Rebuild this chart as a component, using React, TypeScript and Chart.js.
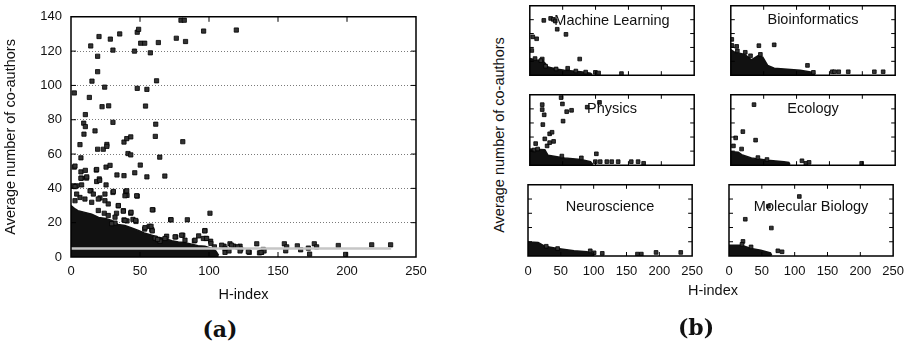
import React, { useEffect, useRef } from 'react';
import { Chart, registerables } from 'chart.js';

Chart.register(...registerables);

const FONT = '"Liberation Sans", Arial, Helvetica, sans-serif';

// ---------- tick labels ----------
const xTickValues = [0, 50, 100, 150, 200, 250];
const xInnerTicks = [50, 100, 150, 200];
const allYTickValues = [0, 20, 40, 60, 80, 100, 120, 140];
const allYInnerTicks = [20, 40, 60, 80, 100, 120];
const subYInnerTicks = [20, 40, 60, 80];

// ---------- panel (a): all fields ----------
const allFieldsOutliers: [number, number][] = [
  [2.4, 95.6], [14.3, 123], [20.3, 128.5], [19.3, 117], [28.5, 127], [35.3, 130], [30.4, 120.6], [48, 131],
  [49, 132.7], [46, 120], [50.5, 124.6], [53.4, 124.6], [57.5, 119], [63.3, 125], [76.3, 127.5], [79.7, 138],
  [82.1, 138], [83, 125.6], [96.1, 131.7], [119.8, 132.3],
  [19.3, 108], [15.2, 102.5], [24.4, 99], [48, 98.3], [55, 97.7], [62, 102.7], [13.3, 93], [22.5, 87.6],
  [27.3, 88.1], [54, 88], [10.4, 83], [9.2, 78], [10.4, 76], [30.4, 78.5], [17.4, 73.5], [9.4, 71.6],
  [61.4, 77.4], [6.5, 65.5], [19.3, 62.8], [23.4, 62.8], [26, 65.6], [26, 64.5], [38.4, 67], [40.4, 69],
  [43.3, 70], [61.1, 70.3], [81, 67.2], [41.3, 60.3], [43.3, 59.5], [64.3, 58.2], [7.2, 57.8], [2.4, 52.4],
  [7.2, 49.6], [10.4, 50.5], [18.3, 50.7], [25.4, 52.4], [28.3, 53.4], [33.3, 47.8], [38.4, 47.4], [46.2, 49.1],
  [50.2, 53.6], [55, 46.7], [68, 47.2], [7.5, 46], [11.3, 46], [20.5, 45.5], [2.9, 53], [18.6, 51],
  [7.7, 42], [1.7, 41.5], [4.1, 41.5], [7.2, 45.9], [11.4, 46.7],
  [2.9, 41], [18.6, 44], [20.8, 44.7], [25.4, 42], [39.6, 38.2], [40.6, 35.9], [48, 35.5], [30.4, 37.6],
  [14.5, 38.6], [21, 34.4], [34.3, 29.8], [38, 27], [43.3, 25.5], [33, 25.5], [59.4, 27.5], [31.9, 19.8],
  [38.4, 21.6], [40.6, 21], [44.9, 21.9], [47.1, 20.7], [53.4, 16.3], [56.7, 17.9], [58.5, 16], [72.2, 21.7],
  [84.3, 21.7], [100.7, 25.5], [69.3, 12.1], [75.9, 11.7], [81, 12.7], [89.4, 9.4], [92.5, 12.3], [97.1, 15.4],
  [101.2, 9.2], [61, 11], [64.5, 9.2], [24.6, 36.7], [30.7, 38.2], [40.4, 38.6], [39.1, 35.7], [47.6, 35.7],
  [58.9, 27.5], [72.5, 21.7],
  [110.9, 6.3], [115.2, 7.7], [118.1, 6.3], [122.5, 6.3], [123, 4.6], [129.2, 2.7], [134.6, 7.7], [136.6, 2.4],
  [139.3, 4.4], [112.8, 4], [138.2, 2.7], [139.9, 3.5], [154.6, 7.7], [156.3, 5.9], [155.6, 3.6], [164, 6.5],
  [166.4, 4.2], [172, 5.2], [172.9, 1.7], [176.3, 7.7], [178, 5.9], [193.7, 6.7], [199, 1.5], [217.9, 7.1],
  [231.6, 7.1], [96.9, 15.2], [97.8, 10.8], [111.6, 2.7], [114.5, 3.5], [122.5, 3.5], [137.7, 2.7],
  [2.9, 32.8], [6.5, 34.7], [10.1, 33.8], [13.8, 38.6], [16.2, 36.7], [4.1, 36.7], [15, 31.9], [19.8, 33.8],
  [24.6, 32.8], [27, 30.9], [19.8, 27.1], [24.1, 25.5], [27, 24.2], [31.9, 23.2], [34.3, 30], [37.9, 26.7],
  [43.5, 26.1], [46.9, 21.3], [39.1, 21.3], [29.5, 19.4], [53.6, 17.1], [58, 17.9], [58.9, 15.2], [62.8, 10.2],
  [68.1, 10.8], [75.4, 11.7], [80.2, 12.7], [82.6, 9.8], [89.9, 9.8], [95.9, 10.8], [98.3, 10.8], [101.4, 7.9],
  [103.9, 5.9], [109.2, 6.9], [111.6, 5], [116.4, 6.9], [120.8, 5.9], [128.5, 3.1],
];
// upper edge of the solid (overplotted) point cloud
const allFieldsDense: [number, number][] = [
  [0, 30], [3, 28], [5, 27], [10, 26], [15, 25], [20, 23], [25, 22.5], [29.5, 21.3], [34, 19], [39, 18.4],
  [44, 17], [48.8, 15.5], [53, 14], [58.5, 12.7], [63, 11.5], [68, 10.8], [73, 9.5], [77.8, 8.8], [82, 8.5],
  [87.5, 7.5], [92, 6.5], [97, 6.3], [102, 5], [105, 3.5], [107, 1],
];
const meanCoauthors = 5;
const meanLineHIndex: [number, number] = [0, 232];

// ---------- panel (b): per field ----------
const fieldNames = ['Machine Learning', 'Bioinformatics', 'Physics', 'Ecology', 'Neuroscience', 'Molecular Biology'];

const mlOutliers: [number, number][] = [
  [21.3, 79], [31.7, 81.8], [35.7, 80.4], [38.7, 78], [41.7, 66.2], [55, 58.9], [4.5, 55.3], [10.4, 52.5],
  [3, 35.6], [18.9, 23.3], [16.8, 21], [75.9, 23.3], [57.6, 10], [99.7, 4.1], [104.6, 3.2], [139.4, 2.3],
  [8, 24], [24, 13], [40, 9], [70, 6], [85, 4.5],
];
const mlDense: [number, number][] = [
  [0, 24], [10, 22], [20, 21], [27.8, 12], [40, 9], [52.6, 7], [65, 6], [77.4, 5], [92.3, 2.7], [95, 1],
];

const bioOutliers: [number, number][] = [
  [1.5, 51.6], [1.5, 42.9], [8.9, 41.5], [42.7, 42.5], [66, 43.8], [116.6, 14.1], [125.6, 4.1], [154.3, 5],
  [157.7, 5], [164.1, 5], [178.6, 5], [218.3, 5], [231.7, 5], [10, 35], [22, 33], [45, 30], [30, 28],
];
const bioDense: [number, number][] = [
  [0, 37], [5.9, 33], [21.3, 30], [31.3, 22], [41.2, 28], [48.6, 26], [56, 14], [66, 10], [85.8, 8.7],
  [105.6, 7.3], [125.5, 4], [128, 1],
];

const physicsOutliers: [number, number][] = [
  [18.9, 86], [18.9, 79], [21.9, 71.6], [19.8, 57.7], [49.6, 87], [47.6, 96], [56.1, 76], [63.5, 78],
  [50.6, 62.6], [87.3, 82.4], [106, 89.2], [22.8, 37.4], [30.2, 44.6], [33.8, 46.8], [26.3, 27.4], [30.2, 32],
  [36.2, 33.8], [8.9, 30.7], [6.4, 21.6], [11.9, 23], [101.2, 16.2], [78.4, 10.4], [48.7, 13], [99.7, 5],
  [107.1, 5], [117.1, 5], [124.6, 5], [134.4, 5], [154.3, 5], [164.7, 5], [173.1, 2.7],
];
const physicsDense: [number, number][] = [
  [0, 23], [22.8, 22], [27.8, 14], [52.6, 10.4], [77.4, 8], [92.3, 5], [96, 1],
];

const ecologyOutliers: [number, number][] = [
  [35.3, 86], [18.3, 47.7], [7.4, 38.8], [37.7, 35.6], [4, 27.4], [16.4, 23], [41.2, 10.8], [55, 8.1],
  [108.2, 6.3], [114.1, 2.7], [119, 4], [199, 2.7],
];
const ecologyDense: [number, number][] = [
  [0, 19], [11.4, 18.5], [16.4, 15], [31.3, 10.4], [56.1, 7.2], [80.8, 5], [88.3, 4], [90, 1],
];

const neuroOutliers: [number, number][] = [
  [27.8, 13.7], [45.1, 10.5], [94.8, 7.3], [100.7, 4.5], [113.1, 3.7], [166.7, 2.7], [172.6, 2.7], [195, 5],
  [232.6, 5],
];
const neuroDense: [number, number][] = [
  [0, 20], [1.5, 19.6], [15.4, 19], [25.3, 13.7], [45.1, 10.5], [70, 7.3], [89.8, 5.9], [99.7, 2.7], [101, 1],
];

const molBioOutliers: [number, number][] = [
  [107.1, 83.6], [60, 69.9], [24.8, 51.6], [64.5, 39.3], [21.3, 20.5], [19.8, 16.4], [33.6, 12.8], [74.4, 7.3],
  [80.8, 5.9],
];
const molBioDense: [number, number][] = [
  [0, 15], [18.9, 15], [33.6, 10.5], [48.4, 8.2], [63.2, 4.5], [65, 1],
];

// ---------- helpers ----------
const toXY = (pts: [number, number][]) => pts.map(([x, y]) => ({ x, y }));

type FrameCfg = {
  xTicks: number[];
  yTicks: number[];
  tickLen: number;
  frameWidth: number;
  title?: string;
  titleOffset?: number;
};

function makeFramePlugin(cfg: FrameCfg) {
  return {
    id: 'frameBox',
    afterDatasetsDraw(chart: any) {
      const ctx: CanvasRenderingContext2D = chart.ctx;
      const { left, right, top, bottom } = chart.chartArea;
      const xs = chart.scales.x;
      const ys = chart.scales.y;
      ctx.save();
      ctx.setLineDash([]);
      ctx.globalAlpha = 1;
      ctx.strokeStyle = '#000';
      ctx.lineWidth = 1;
      ctx.beginPath();
      for (const v of cfg.xTicks) {
        const p = xs.getPixelForValue(v);
        ctx.moveTo(p, bottom);
        ctx.lineTo(p, bottom - cfg.tickLen);
        ctx.moveTo(p, top);
        ctx.lineTo(p, top + cfg.tickLen);
      }
      for (const v of cfg.yTicks) {
        const p = ys.getPixelForValue(v);
        ctx.moveTo(left, p);
        ctx.lineTo(left + cfg.tickLen, p);
        ctx.moveTo(right, p);
        ctx.lineTo(right - cfg.tickLen, p);
      }
      ctx.stroke();
      ctx.lineWidth = cfg.frameWidth;
      ctx.beginPath();
      ctx.rect(left, top, right - left, bottom - top);
      ctx.stroke();
      if (cfg.title) {
        ctx.fillStyle = '#111';
        ctx.font = `14.5px ${FONT}`;
        ctx.textAlign = 'center';
        ctx.textBaseline = 'middle';
        ctx.fillText(cfg.title, (left + right) / 2, top + (cfg.titleOffset || 15));
      }
      ctx.restore();
    },
  };
}

function denseDataset(pts: [number, number][]) {
  return {
    data: toXY(pts),
    showLine: true,
    fill: 'origin',
    borderColor: '#111',
    backgroundColor: '#111',
    borderWidth: 1.5,
    pointRadius: 0,
    tension: 0,
  };
}

function outlierDataset(pts: [number, number][], radius: number) {
  return {
    data: toXY(pts),
    showLine: false,
    pointStyle: 'rect',
    pointRadius: radius,
    backgroundColor: '#333',
    borderColor: '#000',
    borderWidth: 0.8,
  };
}

function configA() {
  return {
    type: 'scatter',
    data: {
      datasets: [
        {
          data: toXY([
            [meanLineHIndex[0], meanCoauthors],
            [meanLineHIndex[1], meanCoauthors],
          ]),
          showLine: true,
          borderColor: '#c6c6c6',
          borderWidth: 2.5,
          pointRadius: 0,
        },
        outlierDataset(allFieldsOutliers, 3.0),
        denseDataset(allFieldsDense),
      ],
    },
    options: {
      responsive: false,
      animation: false,
      events: [],
      layout: { padding: { top: 14, right: 24, left: 0, bottom: 0 } },
      plugins: {
        legend: { display: false },
        tooltip: { enabled: false },
      },
      scales: {
        x: {
          type: 'linear',
          min: 0,
          max: 250,
          afterBuildTicks: (s: any) => {
            s.ticks = xTickValues.map((value) => ({ value }));
          },
          afterFit: (s: any) => {
            s.height = 53;
          },
          grid: { display: false, drawTicks: false },
          border: { display: false },
          ticks: { padding: 7, color: '#111', font: { family: FONT, size: 13 } },
          title: {
            display: true,
            text: 'H-index',
            color: '#111',
            font: { family: FONT, size: 14.5 },
            padding: { top: 0, bottom: 6 },
          },
        },
        y: {
          type: 'linear',
          min: 0,
          max: 140,
          afterBuildTicks: (s: any) => {
            s.ticks = allYTickValues.map((value) => ({ value }));
          },
          afterFit: (s: any) => {
            s.width = 71;
          },
          grid: {
            drawTicks: false,
            lineWidth: 1,
            color: (c: any) =>
              c.tick && (c.tick.value === 0 || c.tick.value === 140) ? 'rgba(0,0,0,0)' : '#7a7a7a',
          },
          border: { display: false, dash: [1, 2] },
          ticks: { padding: 9, color: '#111', font: { family: FONT, size: 13 } },
          title: {
            display: true,
            text: 'Average number of co-authors',
            color: '#111',
            font: { family: FONT, size: 14.5 },
            padding: { top: 2, bottom: 0 },
          },
        },
      },
    },
    plugins: [makeFramePlugin({ xTicks: xInnerTicks, yTicks: allYInnerTicks, tickLen: 5, frameWidth: 1.5 })],
  };
}

function configSub(
  name: string,
  outliers: [number, number][],
  dense: [number, number][],
  showX: boolean,
  titleOffset: number,
  padX: number
) {
  return {
    type: 'scatter',
    data: { datasets: [outlierDataset(outliers, 2.6), denseDataset(dense)] },
    options: {
      responsive: false,
      animation: false,
      events: [],
      layout: { padding: { top: 3, left: padX, right: padX, bottom: showX ? 0 : 3 } },
      plugins: {
        legend: { display: false },
        tooltip: { enabled: false },
      },
      scales: {
        x: {
          type: 'linear',
          min: 0,
          max: 250,
          display: showX,
          afterBuildTicks: (s: any) => {
            s.ticks = xTickValues.map((value) => ({ value }));
          },
          afterFit: (s: any) => {
            if (showX) s.height = 30;
          },
          grid: { display: false, drawTicks: false },
          border: { display: false },
          ticks: { padding: 8, color: '#111', font: { family: FONT, size: 13 }, maxRotation: 0, autoSkip: false },
        },
        y: { type: 'linear', min: 0, max: 100, display: false },
      },
    },
    plugins: [
      makeFramePlugin({
        xTicks: xInnerTicks,
        yTicks: subYInnerTicks,
        tickLen: 4,
        frameWidth: 1.5,
        title: name,
        titleOffset,
      }),
    ],
  };
}

function PlotCanvas(props: { left: number; top: number; width: number; height: number; make: () => any }) {
  const ref = useRef<HTMLCanvasElement>(null);
  useEffect(() => {
    const chart = new Chart(ref.current as HTMLCanvasElement, props.make());
    return () => chart.destroy();
  }, []);
  return (
    <canvas
      ref={ref}
      width={props.width}
      height={props.height}
      style={{ position: 'absolute', left: props.left, top: props.top, width: props.width, height: props.height }}
    />
  );
}

const subLayout = [
  { name: fieldNames[0], out: mlOutliers, dense: mlDense, x0: 528, y0: 4, h: 73, bottom: false, tOff: 15 },
  { name: fieldNames[1], out: bioOutliers, dense: bioDense, x0: 729, y0: 4, h: 73, bottom: false, tOff: 14.5 },
  { name: fieldNames[2], out: physicsOutliers, dense: physicsDense, x0: 528, y0: 93, h: 74, bottom: false, tOff: 14.5 },
  { name: fieldNames[3], out: ecologyOutliers, dense: ecologyDense, x0: 729, y0: 93, h: 74, bottom: false, tOff: 14.5 },
  { name: fieldNames[4], out: neuroOutliers, dense: neuroDense, x0: 528, y0: 183, h: 73, bottom: true, tOff: 22 },
  { name: fieldNames[5], out: molBioOutliers, dense: molBioDense, x0: 729, y0: 183, h: 73, bottom: true, tOff: 22 },
];
const SUB_W = 168;

export default function App() {
  const serif = '"DejaVu Serif", "Liberation Serif", serif';
  return (
    <div style={{ position: 'absolute', left: 0, top: 0, width: 915, height: 346, background: '#fff', overflow: 'hidden' }}>
      <PlotCanvas left={0} top={0} width={440} height={310} make={configA} />
      {subLayout.map((s, i) => {
        const padX = s.bottom ? 15 : 3;
        const w = SUB_W + 2 * padX;
        const h = s.bottom ? s.h + 3 + 30 : s.h + 6;
        return (
          <PlotCanvas
            key={i}
            left={s.x0 - padX}
            top={s.y0 - 3}
            width={w}
            height={h}
            make={() => configSub(s.name, s.out, s.dense, s.bottom, s.tOff, padX)}
          />
        );
      })}
      <div
        style={{
          position: 'absolute',
          left: 500 - 130,
          top: 135 - 9,
          width: 260,
          height: 18,
          lineHeight: '18px',
          textAlign: 'center',
          transform: 'rotate(-90deg)',
          font: `14.5px ${FONT}`,
          color: '#111',
          whiteSpace: 'nowrap',
        }}
      >
        Average number of co-authors
      </div>
      <div
        style={{
          position: 'absolute',
          left: 713 - 50,
          top: 291 - 9,
          width: 100,
          lineHeight: '18px',
          textAlign: 'center',
          font: `14.5px ${FONT}`,
          color: '#111',
        }}
      >
        H-index
      </div>
      <div
        style={{
          position: 'absolute',
          left: 220 - 40,
          top: 330 - 14,
          width: 80,
          lineHeight: '28px',
          textAlign: 'center',
          font: `bold 22px ${serif}`,
          color: '#111',
        }}
      >
        (a)
      </div>
      <div
        style={{
          position: 'absolute',
          left: 696 - 40,
          top: 328 - 14,
          width: 80,
          lineHeight: '28px',
          textAlign: 'center',
          font: `bold 22px ${serif}`,
          color: '#111',
        }}
      >
        (b)
      </div>
    </div>
  );
}
